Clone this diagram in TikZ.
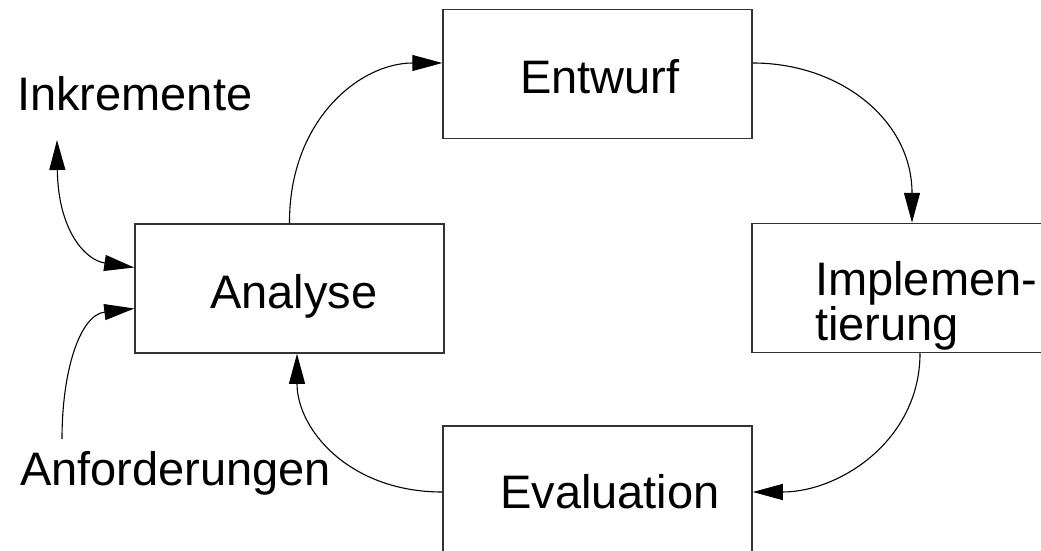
\documentclass[tikz,border=0pt]{standalone}
\usepackage{fontspec}
\setmainfont{Liberation Sans}
\usetikzlibrary{arrows.meta,calc}
\begin{document}
\begin{tikzpicture}[x=1pt,y=-1pt,
  phase/.style={draw=black!80,line width=1.5pt,minimum width=309pt,minimum height=129pt,inner sep=0pt},
  lbl/.style={inner sep=0pt,anchor=base west,font=\fontsize{47}{40}\selectfont},
  flow/.style={line width=1.1pt,-{Triangle[length=30pt,width=16pt]}},
  both/.style={line width=1.1pt,{Triangle[length=30pt,width=16pt]}-{Triangle[length=30pt,width=16pt]}}]
\useasboundingbox (0,0) rectangle (1041,551);
\clip (0,0) rectangle (1041,551);
\fill[white] (0,0) rectangle (1041,551);

% process boxes
\node[phase] (ana) at (289.5,288.5) {};
\node[phase] (ent) at (597.5,74) {};
\node[phase] (imp) at (906.5,288) {};
\node[phase] (eva) at (597.5,490.5) {};

% box captions
\node[lbl] (tana) at (210,308) {Analyse};
\node[lbl] (tent) at (520,93) {Entwurf};
\node[lbl,align=left,anchor=north west] (timp) at (815,261) {Implemen-\\tierung};
\node[lbl] (teva) at (500,508) {Evaluation};

% outside labels
\node[lbl] (ink) at (17,110) {Inkremente};
\node[lbl] (anf) at (20,485) {Anforderungen};

% cycle
\draw[flow] (ana.north) .. controls (289,120) and (360,63) .. ($(ent.west)+(0,-11)$);
\draw[flow] ($(ent.east)+(0,-11)$) .. controls (840,63) and (912,120) .. ($(imp.north)+(5.5,0)$);
\draw[flow] ($(imp.south)+(13.5,0)$) .. controls (920,440) and (840,492) .. ($(eva.east)+(0,1.5)$);
\draw[flow] ($(eva.west)+(0,1.5)$) .. controls (350,492) and (297,430) .. ($(ana.south)+(7.5,0)$);

% inputs to analysis
\coordinate (inkend) at (57,140);
\coordinate (anfend) at (62,439);
\draw[both] (inkend) .. controls (58,230) and (85,260) .. ($(ana.west)+(0,-21)$);
\draw[flow] (anfend) .. controls (62,370) and (80,315) .. ($(ana.west)+(0,20)$);
\end{tikzpicture}
\end{document}
